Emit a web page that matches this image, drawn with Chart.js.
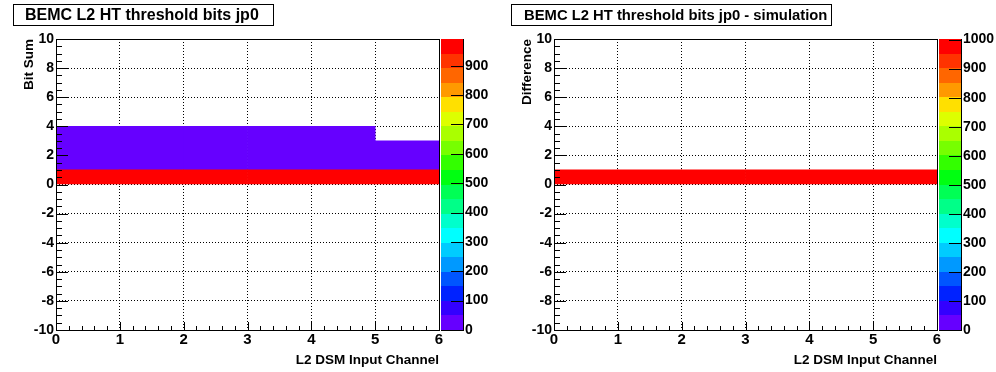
<!DOCTYPE html>
<html>
<head>
<meta charset="utf-8">
<script src="https://cdn.jsdelivr.net/npm/chart.js@4/dist/chart.umd.min.js"></script>
<style>
  body { margin: 0; background: #fff; width: 996px; height: 372px; overflow: hidden; display: flex; }
  .panel { width: 498px; height: 372px; }
</style>
</head>
<body>
<div class="panel"><canvas id="bitSumChart" width="498" height="372"></canvas></div>
<div class="panel"><canvas id="diffChart" width="498" height="372"></canvas></div>
<script>
// channel bin edges (x) and y bin edges
const channelEdges = [0, 1, 2, 3, 4, 5, 6];
const bitSumEdges = [0, 1, 2, 3, 4];
const diffEdges = [0, 1];

// counts per y bin row, one value per channel bin
const bitSumCounts = [
    [991, 991, 991, 991, 991, 991],
    [12, 12, 12, 12, 12, 12],
    [12, 12, 12, 12, 12, 12],
    [12, 12, 12, 12, 12, 0]
];
const diffCounts = [
    [1000, 1000, 1000, 1000, 1000, 1000]
];

const xRange = [0, 6];
const yRange = [-10, 10];
const bitSumZMax = 991;
const diffZMax = 1002;
const zTickValues = [0, 100, 200, 300, 400, 500, 600, 700, 800, 900, 1000];

// ROOT rainbow palette, 20 contours, bottom to top
const palette = [
    '#6600ff', '#3300ff', '#0022ff', '#0055ff', '#0099ff',
    '#00ccff', '#00ffff', '#00ffcc', '#00ff88', '#00ff55',
    '#00ff11', '#33ff00', '#77ff00', '#aaff00', '#ddff00',
    '#ffe000', '#ff9900', '#ff6600', '#ff3300', '#ff0000'
];

Chart.defaults.font.family = '"Liberation Sans", Arial, sans-serif';
Chart.defaults.font.weight = 'bold';
Chart.defaults.color = '#000';

function colorFor(v, zMax) {
    let i = Math.floor(v / zMax * palette.length);
    if (i >= palette.length) i = palette.length - 1;
    return palette[i];
}

function buildDatasets(counts, yEdges, zMax) {
    return counts.map((row, r) => {
        const pts = [];
        const cols = [];
        row.forEach((v, c) => {
            if (v <= 0) return;
            pts.push({ x: (channelEdges[c] + channelEdges[c + 1]) / 2, y: [yEdges[r], yEdges[r + 1]] });
            cols.push(colorFor(v, zMax));
        });
        return {
            data: pts,
            backgroundColor: cols,
            borderWidth: 0,
            barPercentage: 1,
            categoryPercentage: 1,
            grouped: false,
            xAxisID: 'x',
            yAxisID: 'y'
        };
    });
}

// frame, inner ticks, palette, titles
const rootDecor = {
    id: 'rootDecor',
    afterDraw(chart, args, opts) {
        const { ctx, chartArea: a, scales } = chart;
        const x = scales.x, y = scales.y, z = scales.z;
        ctx.save();
        ctx.strokeStyle = '#000';
        ctx.lineWidth = 1;
        ctx.setLineDash([]);

        ctx.strokeRect(a.left + 0.5, a.top + 0.5, a.right - a.left, a.bottom - a.top);

        ctx.beginPath();
        for (let i = 0; i <= 30; i++) {
            const v = x.min + i * 0.2;
            const px = Math.round(x.getPixelForValue(v)) + 0.5;
            const len = i % 5 === 0 ? 8 : 4;
            ctx.moveTo(px, a.bottom);
            ctx.lineTo(px, a.bottom - len);
        }
        for (let i = 0; i <= 40; i++) {
            const v = y.min + i * 0.5;
            const py = Math.round(y.getPixelForValue(v)) + 0.5;
            const len = i % 4 === 0 ? 12 : 6;
            ctx.moveTo(a.left, py);
            ctx.lineTo(a.left + len, py);
        }
        ctx.stroke();

        // palette
        const x0 = a.right + 2, w = 22;
        const n = palette.length;
        for (let i = 0; i < n; i++) {
            const yTop = Math.round(z.getPixelForValue((i + 1) * z.max / n));
            const yBot = Math.round(z.getPixelForValue(i * z.max / n));
            ctx.fillStyle = palette[i];
            ctx.fillRect(x0, yTop, w, yBot - yTop);
        }
        ctx.beginPath();
        ctx.moveTo(x0 + w + 0.5, a.top);
        ctx.lineTo(x0 + w + 0.5, a.bottom + 1);
        ctx.moveTo(x0, a.bottom + 0.5);
        ctx.lineTo(x0 + w + 1, a.bottom + 0.5);
        z.ticks.forEach(t => {
            const py = Math.round(z.getPixelForValue(t.value)) + 0.5;
            ctx.moveTo(x0 + w - 12, py);
            ctx.lineTo(x0 + w, py);
        });
        ctx.stroke();

        // title box
        ctx.fillStyle = '#000';
        ctx.strokeRect(opts.box[0] + 0.5, 4.5, opts.box[1] - opts.box[0], 21);
        ctx.font = 'bold ' + opts.titleSize + 'px "Liberation Sans", Arial, sans-serif';
        ctx.textBaseline = 'middle';
        ctx.textAlign = 'left';
        ctx.fillText(opts.title, opts.titleX, 16);

        // axis titles
        ctx.font = 'bold 13.5px "Liberation Sans", Arial, sans-serif';
        ctx.textAlign = 'right';
        ctx.textBaseline = 'alphabetic';
        ctx.fillText(opts.xTitle, a.right, 364);
        ctx.save();
        ctx.translate(33, a.top);
        ctx.rotate(-Math.PI / 2);
        ctx.textAlign = 'right';
        ctx.fillText(opts.yTitle, 0, 0);
        ctx.restore();

        ctx.restore();
    }
};

function makeChart(id, counts, yEdges, zMax, decor) {
    const ctx = document.getElementById(id).getContext('2d');
    return new Chart(ctx, {
        type: 'bar',
        data: { datasets: buildDatasets(counts, yEdges, zMax) },
        options: {
            responsive: false,
            animation: false,
            layout: { padding: { top: 39, left: 0, right: 0, bottom: 0 } },
            plugins: {
                legend: { display: false },
                tooltip: { enabled: false },
                rootDecor: decor
            },
            scales: {
                x: {
                    type: 'linear',
                    min: xRange[0],
                    max: xRange[1],
                    offset: false,
                    z: 1,
                    grid: { color: '#000', lineWidth: 1, drawTicks: false, offset: false },
                    border: { display: false, dash: [1, 2] },
                    ticks: { stepSize: 1, padding: 1, autoSkip: false, maxRotation: 0, font: { size: 15, weight: 'bold' } },
                    afterFit: s => { s.height = 42; }
                },
                y: {
                    type: 'linear',
                    min: yRange[0],
                    max: yRange[1],
                    z: 1,
                    grid: { color: '#000', lineWidth: 1, drawTicks: false },
                    border: { display: false, dash: [1, 2] },
                    ticks: { stepSize: 2, padding: 2, autoSkip: false, font: { size: 14, weight: 'bold' } },
                    afterFit: s => { s.width = 56; }
                },
                z: {
                    type: 'linear',
                    position: 'right',
                    axis: 'y',
                    display: true,
                    min: 0,
                    max: zMax,
                    grid: { display: false, drawTicks: false },
                    border: { display: false },
                    ticks: {
                        padding: 26,
                        autoSkip: false,
                        font: { size: 14, weight: 'bold' },
                        callback: v => String(v)
                    },
                    afterBuildTicks: s => {
                        s.ticks = zTickValues.filter(v => v <= zMax).map(v => ({ value: v }));
                    },
                    afterFit: s => { s.width = 59; }
                }
            }
        },
        plugins: [rootDecor]
    });
}

makeChart('bitSumChart', bitSumCounts, bitSumEdges, bitSumZMax, {
    title: 'BEMC L2 HT threshold bits jp0',
    titleSize: 16,
    titleX: 25,
    box: [13, 273],
    xTitle: 'L2 DSM Input Channel',
    yTitle: 'Bit Sum'
});

makeChart('diffChart', diffCounts, diffEdges, diffZMax, {
    title: 'BEMC L2 HT threshold bits jp0 - simulation',
    titleSize: 14.8,
    titleX: 26,
    box: [13, 333],
    xTitle: 'L2 DSM Input Channel',
    yTitle: 'Difference'
});
</script>
</body>
</html>
